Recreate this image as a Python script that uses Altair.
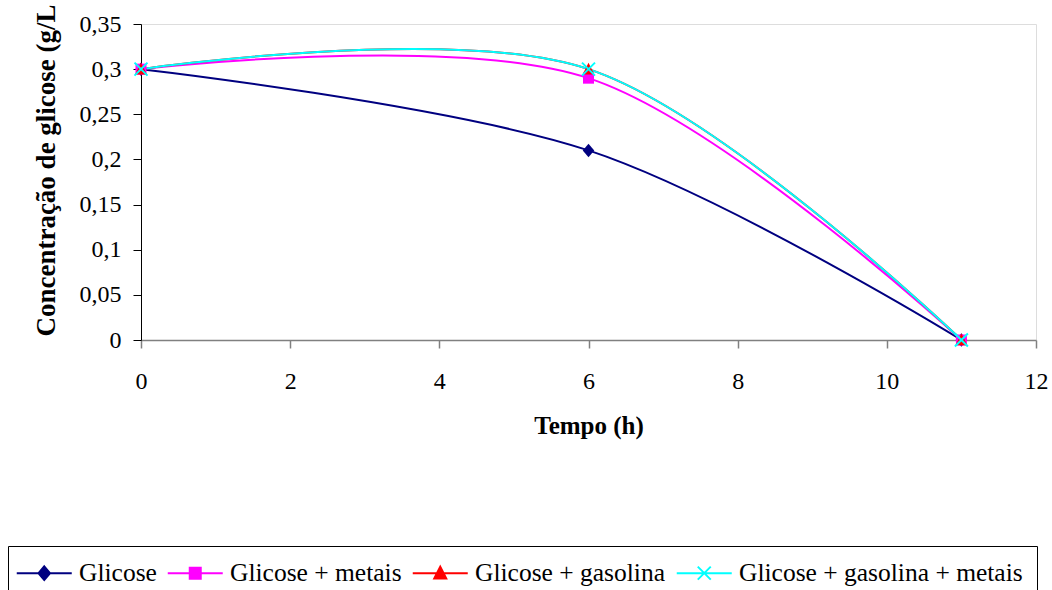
import altair as alt
import pandas as pd

# ---- data ----
tempo = [0, 6, 11]
series_names = ["Glicose", "Glicose + metais", "Glicose + gasolina", "Glicose + gasolina + metais"]
glicose = [0.30, 0.21, 0.0]
glicose_metais = [0.30, 0.29, 0.0]
glicose_gasolina = [0.30, 0.30, 0.0]
glicose_gasolina_metais = [0.30, 0.30, 0.0]
x_ticks = [0, 2, 4, 6, 8, 10, 12]
y_ticks = [0, 0.05, 0.1, 0.15, 0.2, 0.25, 0.3, 0.35]

colors = ["#000080", "#FF00FF", "#FF0000", "#00FFFF"]

rows = []
for name, vals in zip(series_names, [glicose, glicose_metais, glicose_gasolina, glicose_gasolina_metais]):
    for t, v in zip(tempo, vals):
        rows.append({"serie": name, "tempo": t, "conc": v})
df = pd.DataFrame(rows)

FONT = "Liberation Serif"

# marker shapes (unit paths, scaled by sqrt(size)/2)
marker_paths = [
    "M0,-1.35L1.15,0L0,1.35L-1.15,0Z",
    "M-1.1,-1.1H1.1V1.1H-1.1Z",
    "M0,-1.3L1.2,1.05H-1.2Z",
    "M-1.3,-1.3L1.3,1.3M-1.3,1.3L1.3,-1.3",
]
marker_filled = [True, True, True, False]
legend_paths = ["M-5.5,0H5.5" + p for p in marker_paths]

x_enc = alt.X("tempo:Q", scale=alt.Scale(domain=[0, 12], nice=False),
              axis=alt.Axis(values=x_ticks, title="Tempo (h)", grid=False, labelFlush=False,
                            domainColor="#808080", domainWidth=1.5,
                            tickColor="#808080", tickWidth=1.5, tickSize=8,
                            labelFont=FONT, labelFontSize=24, labelColor="black",
                            labelBaseline="alphabetic", labelPadding=40,
                            titleFont=FONT, titleFontSize=25, titleFontWeight="bold",
                            titleColor="black", titleBaseline="alphabetic", titleY=93))
y_enc = alt.Y("conc:Q", scale=alt.Scale(domain=[0, 0.35], nice=False),
              axis=alt.Axis(values=y_ticks, title="Concentração de glicose (g/L", grid=False,
                            labelFlush=False,
                            domainColor="black", tickColor="black", tickSize=8,
                            labelFont=FONT, labelFontSize=24, labelColor="black",
                            labelPadding=12,
                            labelExpr="replace(format(datum.value, '.2~f'), '.', ',')",
                            titleFont=FONT, titleFontSize=27, titleFontWeight="bold",
                            titleColor="black", titleBaseline="alphabetic",
                            titleX=-87, titleY=146, titleAlign="center"))

layers = []
for i, name in enumerate(series_names):
    sub = alt.Chart(df).transform_filter(alt.datum.serie == name)
    layers.append(sub.mark_line(interpolate="cardinal", strokeWidth=2, color=colors[i]).encode(x=x_enc, y=y_enc))
for i, name in enumerate(series_names):
    sub = alt.Chart(df).transform_filter(alt.datum.serie == name)
    if marker_filled[i]:
        m = sub.mark_point(shape=marker_paths[i], size=100, filled=True, color=colors[i], opacity=1)
    else:
        m = sub.mark_point(shape=marker_paths[i], size=100, filled=False, color=colors[i],
                           strokeWidth=2, opacity=1)
    layers.append(m.encode(x=x_enc, y=y_enc))

leg = alt.Legend(orient="none", legendX=-133, legendY=522, direction="horizontal",
                 columns=4, columnPadding=6, padding=14, strokeColor="#000000",
                 title=None, symbolSize=100, symbolStrokeWidth=2,
                 symbolOffset=9.5, labelOffset=22, labelFont=FONT, labelFontSize=25.5,
                 labelColor="black", labelLimit=500, symbolOpacity=1,
                 labelBaseline="middle")

legend_layer = alt.Chart(df).mark_point(filled=True, opacity=0, size=100).encode(
    x=x_enc, y=y_enc,
    fill=alt.Fill("serie:N", scale=alt.Scale(domain=series_names, range=colors), legend=leg),
    stroke=alt.Stroke("serie:N", scale=alt.Scale(domain=series_names, range=colors), legend=leg),
    shape=alt.Shape("serie:N", scale=alt.Scale(domain=series_names, range=legend_paths), legend=leg),
)
layers.append(legend_layer)

chart = alt.layer(*layers).properties(
    width=895, height=316,
    autosize=alt.AutoSizeParams(type="none"),
    padding={"left": 141, "top": 24, "right": 16, "bottom": 250},
).configure_view(stroke=None).configure(background="white", font=FONT).configure_axis(
    labelFont=FONT, titleFont=FONT
)

chart.save("out.html", embed_options={"renderer": "svg", "actions": False})
